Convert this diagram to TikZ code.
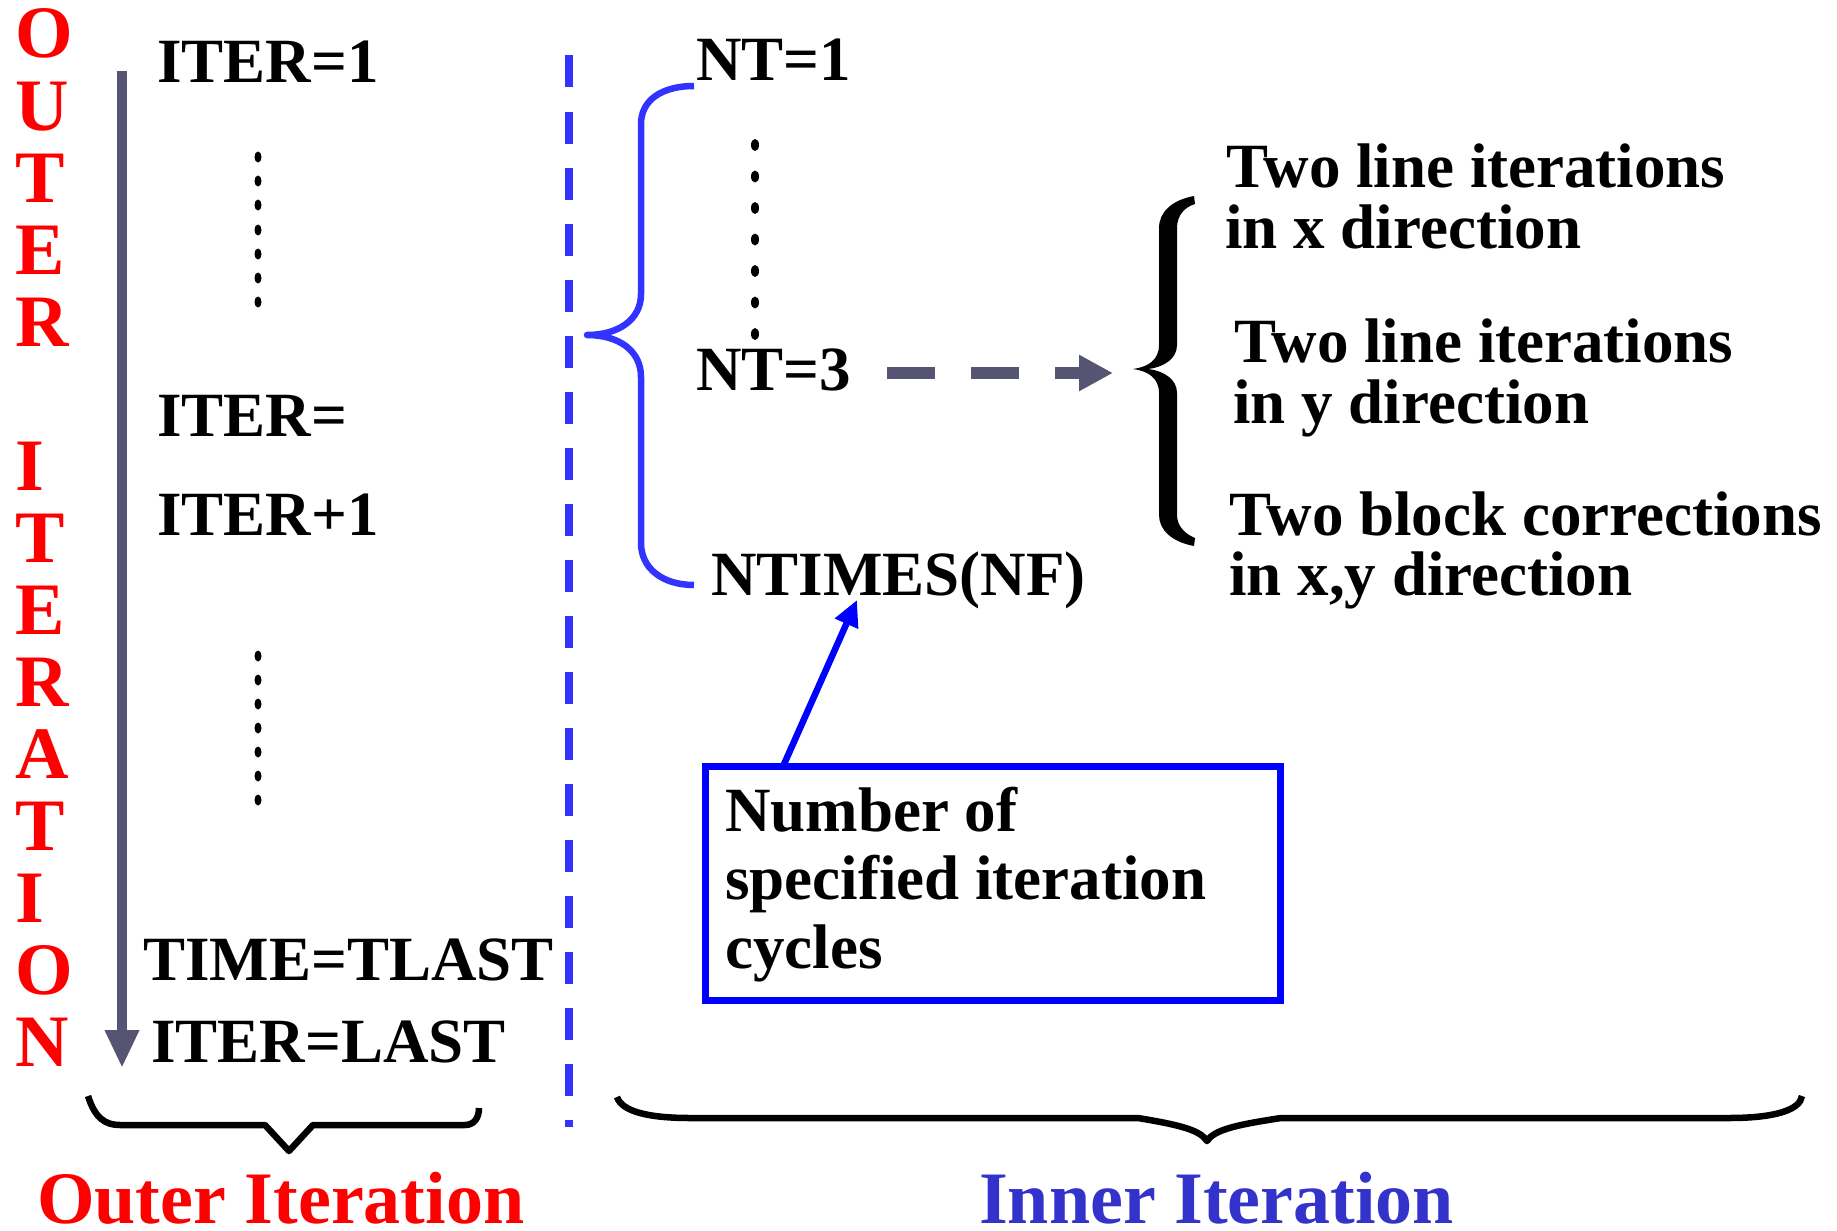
\documentclass[tikz,border=0pt]{standalone}
\usepackage{fontspec}
\setmainfont{Liberation Serif}
\usetikzlibrary{arrows.meta}
\definecolor{slate}{RGB}{85,85,115}
\definecolor{dashblue}{RGB}{51,51,255}
\definecolor{innerblue}{RGB}{51,51,204}
\definecolor{pureblue}{RGB}{0,0,255}
\definecolor{pred}{RGB}{255,0,0}
\begin{document}
\begin{tikzpicture}[x=1pt,y=-1pt,
  lbl/.style={anchor=base west, inner sep=0pt, font=\fontsize{63}{63}\selectfont\bfseries},
  biglbl/.style={anchor=base west, inner sep=0pt, font=\fontsize{74}{74}\selectfont\bfseries},
  dotmark/.style={fill=black, draw=none},
  bracestroke/.style={line width=6.5pt, line join=round}
]
\useasboundingbox (0,0) rectangle (1837,1231);

% vertical OUTER ITERATION
\foreach \ch/\k in {O/0,U/1,T/2,E/3,R/4,I/6,T/7,E/8,R/9,A/10,T/11,I/12,O/13,N/14}
  \node[biglbl, text=pred] (v\k) at (15,{58+72*\k}) {\ch};

% left column texts
\node[lbl] (it1) at (157,83) {ITER=1};
\node[lbl] (iteq) at (157,436) {ITER=};
\node[lbl] (itp1) at (157,535) {ITER+1};
\node[lbl] (tlast) at (143,980) {TIME=TLAST};
\node[lbl] (itlast) at (151,1062) {ITER=LAST};

% outer arrow
\coordinate (gtop) at (122,71);
\coordinate (gbot) at (122,1068);
\draw[slate, line width=10pt, -{Triangle[length=38pt,width=32pt]}] (gtop) -- (gbot);

% dots left
\foreach \yy in {157,181,205,230,254,278,302}
  \fill[dotmark] (258,\yy) ellipse [x radius=3.5, y radius=5.5];
\foreach \yy in {656,680,704,728,752,776,800}
  \fill[dotmark] (258,\yy) ellipse [x radius=3.5, y radius=5.5];

% dashed separator
\coordinate (sepTop) at (569,55.5);
\coordinate (sepBot) at (569,1127);
\draw[dashblue, line width=7.5pt, dash pattern=on 32pt off 24pt] (sepTop) -- (sepBot);

% inner texts
\node[lbl] (nt1) at (696,81) {NT=1};
\node[lbl] (nt3) at (696,390) {NT=3};
\node[lbl] (ntimes) at (711,595) {NTIMES(NF)};

\foreach \yy in {145,176.5,208,239.5,271,302.5,334}
  \fill[dotmark] (755,\yy) ellipse [x radius=4, y radius=6];

% blue brace
\draw[dashblue, bracestroke] (694,86) .. controls (662,86) and (641,100) .. (641,124)
  -- (641,294) .. controls (641,320) and (618,335) .. (587,335)
  .. controls (618,335) and (641,350) .. (641,377)
  -- (641,543) .. controls (641,568) and (662,585) .. (694,585);

% dashed gray arrow
\coordinate (dstart) at (887,373);
\coordinate (dend) at (1113,373);
\draw[slate, line width=12pt, dash pattern=on 48pt off 36pt, -{Triangle[length=34pt,width=34pt]}] (dstart) -- (dend);

% black brace (filled)
\fill[black] (1194,196) .. controls (1172,200) and (1159,212) .. (1159,228)
  -- (1159,345) .. controls (1159,360) and (1148,367) .. (1133,369)
  .. controls (1148,371) and (1159,378) .. (1159,393)
  -- (1159,515) .. controls (1159,530) and (1172,542) .. (1194,546)
  -- (1195,538) .. controls (1185,534) and (1177,526) .. (1177,515)
  -- (1177,393) .. controls (1177,380) and (1165,371) .. (1148,369)
  .. controls (1165,367) and (1177,358) .. (1177,345)
  -- (1177,228) .. controls (1177,215) and (1185,207) .. (1195,204) -- cycle;

% right texts
\node[lbl] (r1a) at (1226,187) {Two line iterations};
\node[lbl] (r1b) at (1225,248) {in x direction};
\node[lbl] (r2a) at (1234,362) {Two line iterations};
\node[lbl] (r2b) at (1233,423) {in y direction};
\node[lbl] (r3a) at (1229,535) {Two block corrections};
\node[lbl] (r3b) at (1229,595) {in x,y direction};

% box
\node[draw=pureblue, line width=7pt, minimum width=575pt, minimum height=234pt,
      inner sep=0pt, outer sep=0pt, anchor=north west] (box) at (705.5,766.5) {};
\node[lbl] (b1) at (725,831) {Number of};
\node[lbl] (b2) at (725,899) {specified iteration};
\node[lbl] (b3) at (725,968) {cycles};
\coordinate (tipN) at (857,600);
\draw[pureblue, line width=6.5pt, -{Triangle[length=26pt,width=24pt]}] ([xshift=77.5pt]box.north west) -- (tipN);

% bottom braces
\draw[bracestroke] (88,1096) .. controls (95,1118) and (105,1125) .. (120,1125)
  -- (265,1125) -- (289,1151) -- (313,1125) -- (465,1125)
  .. controls (474,1125) and (479,1118) .. (479,1108);
\draw[bracestroke] (617,1097) .. controls (622,1112) and (650,1118) .. (690,1118)
  -- (1138,1118) .. controls (1180,1125) and (1200,1130) .. (1207,1141)
  .. controls (1214,1130) and (1235,1125) .. (1281,1118)
  -- (1729,1118) .. controls (1775,1118) and (1800,1110) .. (1802,1096);

\node[biglbl, text=pred] (outer) at (37,1223) {Outer Iteration};
\node[biglbl, text=innerblue] (inner) at (979,1223) {Inner Iteration};
\end{tikzpicture}
\end{document}
